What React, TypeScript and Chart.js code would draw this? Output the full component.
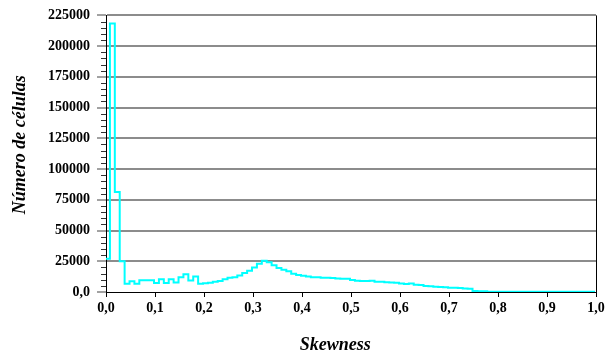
import React, { useEffect, useRef } from 'react';
import { Chart, registerables } from 'chart.js';

Chart.register(...registerables);

// Histogram bins: bin k covers [BIN_START + k*BIN_WIDTH, BIN_START + (k+1)*BIN_WIDTH]
const BIN_START = -0.002;
const BIN_WIDTH = 0.01;

const cellCounts: number[] = [
  27000, 218500, 81400, 25000, 6800, 8800, 6800, 9500, 9500, 9500,
  7300, 10300, 7300, 10300, 7800, 11900, 14500, 9400, 12700, 6800,
  7200, 7500, 8300, 9000, 10300, 11600, 12100, 13500, 15400, 17300,
  20000, 23000, 25400, 24200, 21800, 19600, 18200, 16800, 14800, 13800,
  13200, 12600, 12100, 12000, 11600, 11500, 11300, 11000, 10800, 10700,
  9800, 9200, 8900, 8900, 9100, 8400, 8300, 8000, 7800, 7600,
  7000, 6500, 6900, 5900, 5600, 4800, 4600, 4200, 4000, 3900,
  3500, 3400, 3200, 2900, 2700, 800, 700, 700, 200, 200,
  200, 200, 200, 200, 200, 200, 150, 150, 150, 150,
  150, 150, 150, 150, 150, 150, 150, 150, 150, 150,
];

const X_MIN = 0;
const X_MAX = 1;
const X_STEP = 0.1;
const Y_MIN = 0;
const Y_MAX = 225000;
const Y_STEP = 25000;
const Y_MINOR_STEP = 5000;

const X_TITLE = 'Skewness';
const Y_TITLE = 'Número de células';

const SERIF = "'Liberation Serif', 'Times New Roman', 'DejaVu Serif', serif";

const frameAndMinorTicks = {
  id: 'frameAndMinorTicks',
  afterDraw(chart: any) {
    const ctx = chart.ctx;
    const y = chart.scales.y;
    const { left, right, top, bottom } = chart.chartArea;
    ctx.save();
    ctx.strokeStyle = '#333';
    ctx.lineWidth = 1;
    ctx.beginPath();
    for (let v = Y_MIN; v <= Y_MAX; v += Y_MINOR_STEP) {
      if (v % Y_STEP === 0) continue;
      const py = Math.round(y.getPixelForValue(v)) + 0.5;
      ctx.moveTo(left - 5, py);
      ctx.lineTo(left, py);
    }
    ctx.stroke();
    ctx.strokeStyle = '#000';
    ctx.beginPath();
    const rx = Math.round(right) + 0.5;
    ctx.moveTo(rx, top);
    ctx.lineTo(rx, bottom);
    ctx.stroke();
    ctx.restore();
  },
};

export default function App() {
  const canvasRef = useRef<HTMLCanvasElement | null>(null);

  useEffect(() => {
    const canvas = canvasRef.current;
    if (!canvas) return;

    const points = cellCounts.map((c, i) => ({
      x: +(BIN_START + i * BIN_WIDTH).toFixed(4),
      y: c,
    }));
    points.push({
      x: +(BIN_START + cellCounts.length * BIN_WIDTH).toFixed(4),
      y: cellCounts[cellCounts.length - 1],
    });

    const chart = new Chart(canvas, {
      type: 'line',
      data: {
        datasets: [
          {
            data: points,
            borderColor: '#00ffff',
            borderWidth: 2,
            pointRadius: 0,
            stepped: 'before',
            fill: false,
          },
        ],
      },
      options: {
        responsive: false,
        animation: false,
        events: [],
        layout: { padding: { top: 15, right: 19, left: 0, bottom: 0 } },
        plugins: {
          legend: { display: false },
          tooltip: { enabled: false },
          title: { display: false },
        },
        scales: {
          x: {
            type: 'linear',
            min: X_MIN,
            max: X_MAX,
            afterFit: (s: any) => {
              s.height = 64;
            },
            grid: {
              drawOnChartArea: false,
              drawTicks: true,
              tickLength: 5,
              tickColor: '#000',
            },
            border: { color: '#000', width: 1 },
            ticks: {
              stepSize: X_STEP,
              padding: 3,
              color: '#000',
              maxRotation: 0,
              font: { family: SERIF, size: 14, weight: 'bold' },
              callback: (v: any) => Number(v).toFixed(1).replace('.', ','),
            },
            title: {
              display: true,
              text: X_TITLE + '       ',
              color: '#000',
              padding: { top: 0, bottom: 0 },
              font: { family: SERIF, size: 18, weight: 'bold', style: 'italic' },
            },
          },
          y: {
            type: 'linear',
            min: Y_MIN,
            max: Y_MAX,
            afterFit: (s: any) => {
              s.width = 106;
            },
            grid: {
              drawOnChartArea: true,
              drawTicks: true,
              tickLength: 9,
              lineWidth: 2,
              color: (c: any) => (c.tick && c.tick.value === 0 ? 'rgba(0,0,0,0)' : '#8c8c8c'),
              tickColor: '#444',
              tickWidth: 1,
            },
            border: { color: '#000', width: 1 },
            ticks: {
              stepSize: Y_STEP,
              padding: 7,
              color: '#000',
              font: { family: SERIF, size: 14, weight: 'bold' },
              callback: (v: any) => (Number(v) === 0 ? '0,0' : String(v)),
            },
            title: {
              display: true,
              text: '    ' + Y_TITLE,
              color: '#000',
              padding: { top: 10, bottom: 0 },
              font: { family: SERIF, size: 18, weight: 'bold', style: 'italic' },
            },
          },
        },
      },
      plugins: [frameAndMinorTicks],
    });

    return () => {
      chart.destroy();
    };
  }, []);

  return (
    <div style={{ position: 'absolute', left: 0, top: 0, width: 615, height: 356, background: '#fff' }}>
      <canvas ref={canvasRef} width={615} height={356} style={{ display: 'block' }} />
    </div>
  );
}
